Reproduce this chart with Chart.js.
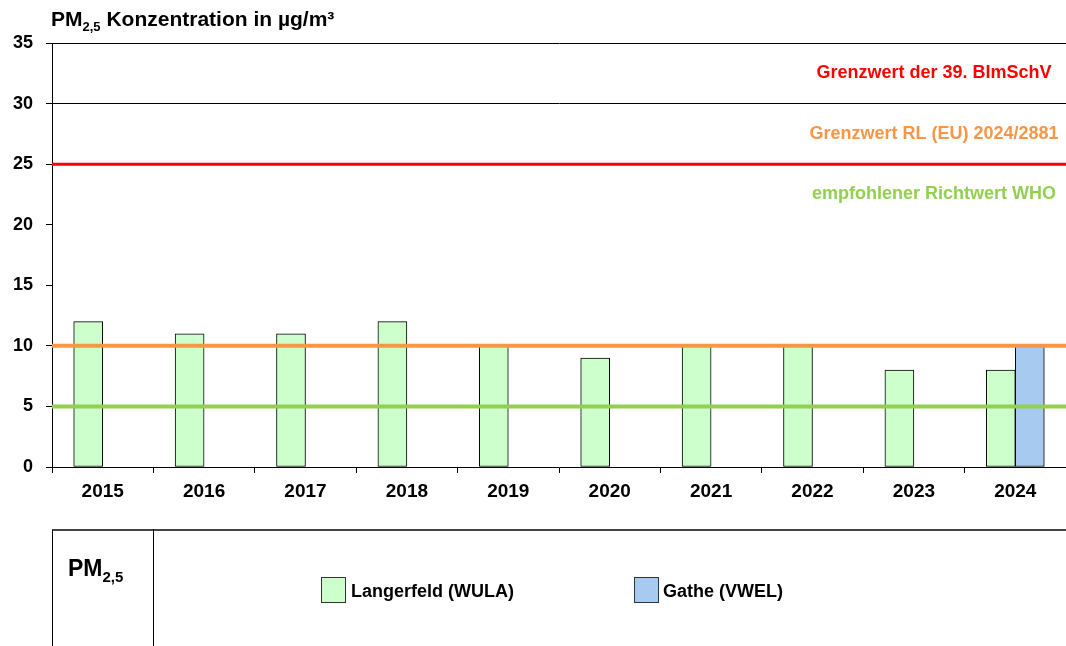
<!DOCTYPE html>
<html>
<head>
<meta charset="utf-8">
<script src="https://cdn.jsdelivr.net/npm/chart.js@4"></script>
<style>
  html, body { margin: 0; padding: 0; background: #fff; }
  #wrap { position: relative; width: 1066px; height: 646px; overflow: hidden; font-family: "Liberation Sans", Arial, sans-serif; }
  #c { position: absolute; left: 0; top: 0; }
  .title { position: absolute; left: 51px; top: 8px; font-size: 21px; line-height: 21px; font-weight: bold; color: #000; white-space: nowrap; }
  .title sub { font-size: 13px; vertical-align: -5px; line-height: 0; }
  .legbox { position: absolute; left: 52px; top: 529px; width: 1100px; height: 200px; border-top: 2px solid #444; border-left: 1.5px solid #000; }
  .legcell { position: absolute; left: 153px; top: 529px; width: 0; height: 200px; border-left: 1.5px solid #000; }
  .legtitle { position: absolute; left: 68px; top: 557px; font-size: 23px; line-height: 23px; font-weight: bold; white-space: nowrap; }
  .legtitle sub { font-size: 15px; vertical-align: -6px; line-height: 0; }
  .sw { position: absolute; top: 577px; width: 23px; height: 24px; border: 1px solid #333; }
  .lt { position: absolute; top: 578px; font-size: 18px; line-height: 26px; font-weight: bold; white-space: nowrap; }
</style>
</head>
<body>
<div id="wrap">
  <canvas id="c" width="1066" height="646"></canvas>
  <div class="title">PM<sub>2,5</sub> Konzentration in µg/m³</div>
  <div class="legbox"></div>
  <div class="legcell"></div>
  <div class="legtitle">PM<sub>2,5</sub></div>
  <div class="sw" style="left:321px;background:#CCFFCC;"></div>
  <div class="lt" style="left:351px;">Langerfeld (WULA)</div>
  <div class="sw" style="left:634px;background:#A6CAF0;"></div>
  <div class="lt" style="left:663px;">Gathe (VWEL)</div>
</div>
<script>
// ---- data ----
const years = ['2015','2016','2017','2018','2019','2020','2021','2022','2023','2024'];
const langerfeld = [12, 11, 11, 12, 10, 9, 10, 10, 8, 8];
const gathe = [null, null, null, null, null, null, null, null, null, 10];
const seriesNames = ['Langerfeld (WULA)', 'Gathe (VWEL)'];
const limitValues = [25, 10, 5];
const limitLabels = ['Grenzwert der 39. BImSchV', 'Grenzwert RL (EU) 2024/2881', 'empfohlener Richtwert WHO'];
const limitLabelPositions = [32.5, 27.5, 22.5];
const yTicks = [0, 5, 10, 15, 20, 25, 30, 35];

// ---- styles ----
const limitColors = ['#FF0000', '#F79646', '#92D050'];
const limitWidths = [3, 4, 4];

// line datasets first in the array so they are drawn on top of the bars
const limitDatasets = limitValues.map((v, i) => ({
  type: 'line',
  label: limitLabels[i],
  data: [{x: 0, y: v}, {x: 1, y: v}],
  xAxisID: 'x2',
  borderColor: limitColors[i],
  borderWidth: limitWidths[i],
  pointRadius: 0,
  fill: false
}));

const limitLabelPlugin = {
  id: 'limitLabels',
  afterDatasetsDraw(chart) {
    const ctx = chart.ctx;
    const y = chart.scales.y;
    ctx.save();
    ctx.font = 'bold 18px "Liberation Sans", Arial, sans-serif';
    ctx.textAlign = 'center';
    ctx.textBaseline = 'middle';
    limitLabels.forEach((t, i) => {
      ctx.fillStyle = limitColors[i];
      ctx.fillText(t, 934, y.getPixelForValue(limitLabelPositions[i]));
    });
    ctx.restore();
  }
};

new Chart(document.getElementById('c'), {
  data: {
    labels: years,
    datasets: [
      ...limitDatasets,
      {
        type: 'bar', label: seriesNames[0], data: langerfeld, xAxisID: 'x',
        backgroundColor: '#CCFFCC', borderColor: '#000', borderWidth: 1,
        borderSkipped: false, barThickness: 29
      },
      {
        type: 'bar', label: seriesNames[1], data: gathe, xAxisID: 'x',
        backgroundColor: '#A6CAF0', borderColor: '#000', borderWidth: 1,
        borderSkipped: false, barThickness: 29
      }
    ]
  },
  options: {
    responsive: false,
    animation: false,
    devicePixelRatio: 1,
    layout: { padding: { top: 43, right: 0, bottom: 139, left: 0 } },
    plugins: { legend: { display: false }, tooltip: { enabled: false }, title: { display: false } },
    scales: {
      x: {
        type: 'category',
        offset: true,
        grid: { offset: true, drawOnChartArea: false, tickLength: 6, tickColor: '#000', color: '#000' },
        border: { color: '#000', width: 1 },
        ticks: { color: '#000', font: { family: '"Liberation Sans", Arial, sans-serif', size: 19, weight: 'bold' }, padding: 7, maxRotation: 0 },
        afterFit: (s) => { s.height = 40; }
      },
      x2: { type: 'linear', display: false, min: 0, max: 1 },
      y: {
        min: 0, max: 35,
        afterBuildTicks: (s) => { s.ticks = yTicks.map(v => ({ value: v })); },
        grid: {
          color: (c) => (c.tick && c.tick.value >= 30 ? '#000' : 'rgba(0,0,0,0)'),
          tickColor: '#000', tickLength: 6, lineWidth: 1
        },
        border: { color: '#000', width: 1 },
        ticks: { color: '#000', font: { family: '"Liberation Sans", Arial, sans-serif', size: 18, weight: 'bold' }, padding: 13 },
        afterFit: (s) => { s.width = 52; }
      }
    }
  },
  plugins: [limitLabelPlugin]
});
</script>
</body>
</html>
